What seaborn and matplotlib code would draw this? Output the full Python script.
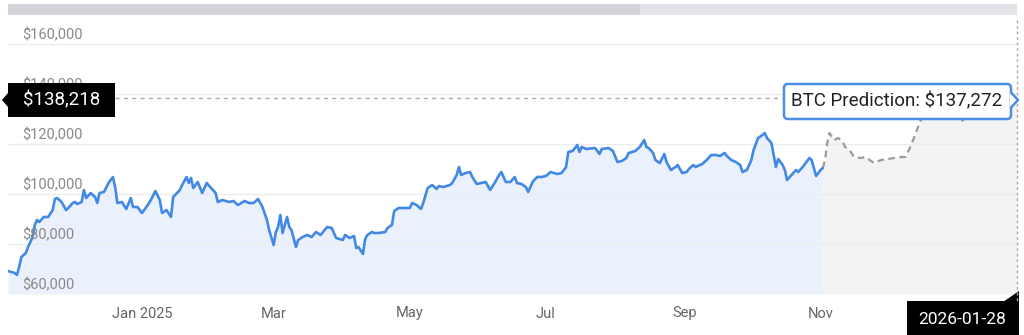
import numpy as np
import pandas as pd
import matplotlib
matplotlib.use("Agg")
import matplotlib.pyplot as plt
import seaborn as sns
from matplotlib.patches import Rectangle, Polygon, FancyBboxPatch
from matplotlib.transforms import Affine2D, blended_transform_factory, offset_copy
from matplotlib.lines import Line2D

# ---------------- data ----------------
hist_dates = [
    "2024-11-02", "2024-11-05", "2024-11-06", "2024-11-07", "2024-11-08", "2024-11-10", "2024-11-11",
    "2024-11-13", "2024-11-14", "2024-11-15", "2024-11-16", "2024-11-18", "2024-11-20", "2024-11-22",
    "2024-11-23", "2024-11-24", "2024-11-26", "2024-11-28", "2024-11-29",
    "2024-12-01", "2024-12-02", "2024-12-03", "2024-12-05", "2024-12-06", "2024-12-07", "2024-12-09",
    "2024-12-11", "2024-12-12", "2024-12-13", "2024-12-15", "2024-12-17", "2024-12-19", "2024-12-20",
    "2024-12-21", "2024-12-23", "2024-12-25", "2024-12-27", "2024-12-28", "2024-12-30",
    "2025-01-01", "2025-01-03", "2025-01-05", "2025-01-07", "2025-01-09", "2025-01-10", "2025-01-12",
    "2025-01-14", "2025-01-15", "2025-01-18", "2025-01-19", "2025-01-21", "2025-01-22", "2025-01-23",
    "2025-01-24", "2025-01-26", "2025-01-28", "2025-01-30",
    "2025-02-03", "2025-02-04", "2025-02-06", "2025-02-09", "2025-02-11", "2025-02-13", "2025-02-16",
    "2025-02-18", "2025-02-20", "2025-02-22", "2025-02-24", "2025-02-26", "2025-02-27",
    "2025-03-01", "2025-03-02", "2025-03-03", "2025-03-04", "2025-03-05", "2025-03-07", "2025-03-08",
    "2025-03-09", "2025-03-11", "2025-03-12", "2025-03-14", "2025-03-16", "2025-03-18", "2025-03-20",
    "2025-03-22", "2025-03-25", "2025-03-27", "2025-03-29",
    "2025-04-01", "2025-04-02", "2025-04-04", "2025-04-06", "2025-04-07", "2025-04-08", "2025-04-10",
    "2025-04-11", "2025-04-12", "2025-04-14", "2025-04-15", "2025-04-17", "2025-04-20", "2025-04-21",
    "2025-04-23", "2025-04-24", "2025-04-26", "2025-04-28",
    "2025-05-01", "2025-05-02", "2025-05-04", "2025-05-06", "2025-05-07", "2025-05-09", "2025-05-11",
    "2025-05-13", "2025-05-14", "2025-05-16", "2025-05-19", "2025-05-20", "2025-05-22", "2025-05-23",
    "2025-05-24", "2025-05-26", "2025-05-28", "2025-05-29", "2025-05-31",
    "2025-06-02", "2025-06-04", "2025-06-06", "2025-06-08", "2025-06-10", "2025-06-11", "2025-06-13",
    "2025-06-15", "2025-06-17", "2025-06-18", "2025-06-20", "2025-06-22", "2025-06-23", "2025-06-25",
    "2025-06-27", "2025-06-29",
    "2025-07-01", "2025-07-03", "2025-07-06", "2025-07-08", "2025-07-10", "2025-07-11", "2025-07-13",
    "2025-07-15", "2025-07-16", "2025-07-17", "2025-07-19", "2025-07-23", "2025-07-25", "2025-07-26",
    "2025-07-29", "2025-07-31",
    "2025-08-02", "2025-08-04", "2025-08-06", "2025-08-07", "2025-08-10", "2025-08-12", "2025-08-14",
    "2025-08-15", "2025-08-16", "2025-08-18", "2025-08-19", "2025-08-21", "2025-08-23", "2025-08-24",
    "2025-08-26", "2025-08-28", "2025-08-29", "2025-08-31",
    "2025-09-02", "2025-09-03", "2025-09-05", "2025-09-06", "2025-09-09", "2025-09-11", "2025-09-13",
    "2025-09-15", "2025-09-17", "2025-09-19", "2025-09-20", "2025-09-22", "2025-09-24", "2025-09-26",
    "2025-09-27", "2025-09-29",
    "2025-10-01", "2025-10-02", "2025-10-04", "2025-10-06", "2025-10-07", "2025-10-08", "2025-10-10",
    "2025-10-12", "2025-10-13", "2025-10-15", "2025-10-16", "2025-10-17", "2025-10-19", "2025-10-21",
    "2025-10-22", "2025-10-24", "2025-10-27", "2025-10-28", "2025-10-30",
    "2025-11-01", "2025-11-02",
]
hist_values_k = [
    69.2, 68.4, 67.6, 70.8, 74.8, 76.4, 78.8, 82.8, 87.6, 89.6, 88.8, 90.8, 90.8, 93.6, 98.0, 98.4, 96.8, 93.6, 94.4,
    96.4, 96.8, 96.0, 96.8, 101.6, 98.4, 100.4, 98.8, 96.4, 100.4, 100.8, 104.4, 106.8, 102.8, 96.4, 96.8, 94.0,
    98.4, 94.8, 94.8,
    92.4, 94.8, 97.6, 101.2, 97.6, 92.4, 93.6, 90.8, 98.8, 101.6, 103.6, 106.8, 104.4, 106.4, 102.4, 104.8, 100.4, 104.4,
    100.4, 96.8, 97.6, 96.8, 97.2, 95.6, 97.2, 96.4, 96.4, 98.0, 94.8, 89.6, 85.6,
    79.6, 84.8, 86.8, 91.6, 84.4, 90.8, 86.8, 85.6, 78.8, 81.6, 82.8, 83.6, 82.8, 84.8, 83.6, 86.8, 86.4, 82.4,
    81.6, 83.6, 82.4, 83.2, 78.4, 78.8, 76.0, 82.0, 83.6, 84.8, 84.4, 84.4, 84.8, 86.4, 87.6, 93.2, 94.4, 94.4,
    94.4, 96.4, 95.6, 94.0, 96.4, 102.4, 103.6, 102.0, 103.2, 102.8, 103.6, 104.4, 107.6, 110.8, 107.6, 108.4,
    108.8, 106.8, 104.0,
    104.4, 104.8, 101.6, 104.4, 107.6, 108.8, 104.8, 104.8, 106.8, 104.4, 104.0, 102.8, 100.8, 104.8, 106.8, 106.8,
    107.2, 108.8, 108.0, 108.4, 110.8, 116.8, 117.2, 119.6, 116.8, 118.8, 118.0, 118.4, 116.0, 118.0, 118.4, 117.2,
    112.8, 113.2, 114.4, 116.4, 117.2, 118.8, 121.6, 118.8, 118.4, 116.4, 113.6, 112.4, 116.0, 112.8, 109.6, 110.8,
    111.6, 108.4,
    108.8, 110.0, 111.6, 110.8, 112.0, 113.6, 115.6, 115.6, 115.2, 116.4, 115.2, 113.6, 112.8, 111.6, 108.8, 109.6,
    113.6, 117.6, 122.4, 123.6, 124.4, 122.4, 120.4, 110.8, 114.0, 111.6, 109.6, 105.6, 107.6, 109.6, 108.8, 110.8,
    114.4, 113.6, 107.2,
    109.6, 110.4,
]

pred_dates = [
    "2025-11-02", "2025-11-03", "2025-11-04", "2025-11-05", "2025-11-07", "2025-11-09", "2025-11-11",
    "2025-11-12", "2025-11-14", "2025-11-16", "2025-11-19", "2025-11-21", "2025-11-23", "2025-11-25",
    "2025-11-28", "2025-12-01", "2025-12-04", "2025-12-07", "2025-12-09", "2025-12-11", "2025-12-13",
    "2025-12-15", "2025-12-18", "2025-12-21", "2025-12-24", "2025-12-26", "2025-12-29", "2026-01-01",
    "2026-01-03", "2026-01-06", "2026-01-11", "2026-01-16", "2026-01-20", "2026-01-23", "2026-01-28",
]
pred_values_k = [
    110.4, 113.6, 120.4, 124.4, 121.6, 122.4, 120.8, 118.8, 117.6, 114.8, 114.4, 114.8, 113.6, 112.4,
    113.6, 114.0, 114.4, 114.8, 114.8, 118.4, 122.8, 127.6, 134.0, 140.0, 143.6, 144.0, 138.0, 131.0,
    128.8, 131.6, 134.0, 136.0, 138.5, 139.0, 137.272,
]

y_ticks = [60000, 80000, 100000, 120000, 140000, 160000]
x_tick_dates = ["2025-01-01", "2025-03-01", "2025-05-01", "2025-07-01", "2025-09-01", "2025-11-01"]
x_tick_labels = ["Jan 2025", "Mar", "May", "Jul", "Sep", "Nov"]

cursor_price = 138218
cursor_date = "2026-01-28"
prediction_price = 137272

# ---------------- figure ----------------
sns.set_style("white")
plt.rcParams["font.family"] = ["Roboto", "DejaVu Sans"]

W, H = 1024, 335
fig = plt.figure(figsize=(W / 100, H / 100), dpi=100)
fig.patch.set_facecolor("white")
pix = Affine2D().scale(1 / W, -1 / H).translate(0, 1) + fig.transFigure

ax = fig.add_axes([8 / W, (H - 294) / H, 1009 / W, 274 / H])
ax.set_facecolor("white")

hist = pd.DataFrame({"date": pd.to_datetime(hist_dates), "price": np.array(hist_values_k) * 1000})
pred = pd.DataFrame({"date": pd.to_datetime(pred_dates), "price": np.array(pred_values_k) * 1000})

ymin, ymax = 60000, 169600
ax.fill_between(hist["date"], hist["price"], ymin, color="#eaf1fc", lw=0, zorder=1)
ax.fill_between(pred["date"], pred["price"], ymin, color="#f3f3f3", lw=0, zorder=1)

for v in y_ticks:
    ax.axhline(v, color="#ececec", lw=1, zorder=1.5)

sns.lineplot(data=hist, x="date", y="price", ax=ax, color="#4189e4", lw=1.9, zorder=3)
sns.lineplot(data=pred, x="date", y="price", ax=ax, color="#9b9b9b", lw=1.6,
             linestyle=(0, (3, 2)), zorder=2.5)

ax.set_xlim(pd.Timestamp("2024-11-02"), pd.Timestamp("2026-01-28"))
ax.set_ylim(ymin, ymax)
ax.set_xlabel("")
ax.set_ylabel("")
for s in ax.spines.values():
    s.set_visible(False)
ax.set_yticks([])
ax.set_xticks(pd.to_datetime(x_tick_dates))
ax.set_xticklabels(x_tick_labels)
ax.tick_params(axis="x", length=0, pad=9, labelsize=10.5, labelcolor="#666666")

trans_y = offset_copy(blended_transform_factory(ax.transAxes, ax.transData), fig=fig, x=14, y=2, units="dots")
for v in y_ticks:
    ax.text(0, v, f"${v:,}", transform=trans_y, ha="left", va="bottom",
            fontsize=10.5, color="#8a8a8a", zorder=4)

# crosshair lines
ax.axhline(cursor_price, xmin=(115 - 8) / 1009, xmax=1, color="#ababab", lw=1,
           linestyle=(0, (3, 3)), zorder=2)
fig.add_artist(Line2D([1017, 1017], [20, 301], transform=pix, color="#ababab", lw=1,
                      linestyle=(0, (2, 2))))

# top scrollbar
fig.add_artist(Rectangle((8, 4), 632, 11, transform=pix, fc="#d3d4d9", ec="none"))
fig.add_artist(Rectangle((640, 4), 377, 11, transform=pix, fc="#e3e4e9", ec="none"))

# left price label
fig.add_artist(Rectangle((8, 83), 107, 34, transform=pix, fc="black", ec="none"))
fig.add_artist(Polygon([(8, 93), (2, 100), (8, 107)], closed=True, transform=pix, fc="black", ec="none"))
fig.text(61.5, 100, f"${cursor_price:,}", transform=pix, ha="center", va="center",
         color="white", fontsize=13.5)

# bottom date label
fig.add_artist(Rectangle((907, 301), 112, 40, transform=pix, fc="black", ec="none"))
fig.add_artist(Polygon([(1003, 301.5), (1019, 301.5), (1019, 291)], closed=True, transform=pix,
                       fc="black", ec="none"))
fig.text(962, 319, cursor_date, transform=pix, ha="center", va="center", color="white", fontsize=12.5)

# prediction callout
blue = "#4a8fe3"
fig.add_artist(FancyBboxPatch((784, 84), 227, 35, boxstyle="round,pad=0,rounding_size=4",
                              transform=pix, fc="white", ec=blue, lw=1.8))
fig.add_artist(Polygon([(1010, 92), (1018, 100), (1010, 108)], closed=True, transform=pix,
                       fc="white", ec="none"))
fig.add_artist(Line2D([1011, 1018, 1011], [92.5, 100, 107.5], transform=pix, color=blue, lw=1.8))
fig.text(897, 101.5, f"BTC Prediction: ${prediction_price:,}", transform=pix, ha="center", va="center",
         color="#222222", fontsize=13.5)

fig.savefig("out.png", dpi=100)
